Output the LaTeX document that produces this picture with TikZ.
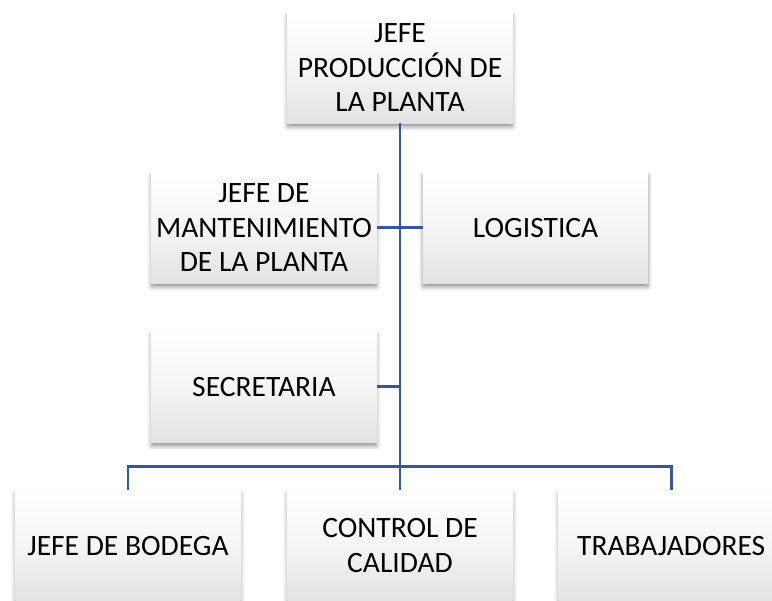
\documentclass[tikz,border=0pt]{standalone}
\usepackage{fontspec}
\setmainfont{Carlito}
\usetikzlibrary{shadows.blur}
\definecolor{linkblue}{RGB}{52,88,158}
\tikzset{
  box/.style={rectangle, minimum width=5.63cm, minimum height=2.78cm,
    align=center, inner sep=0pt, top color=white, bottom color=black!11,
    middle color=white!96!black,
    blur shadow={shadow xshift=0pt, shadow yshift=-2.5pt, shadow blur radius=3pt, shadow opacity=45},
    font=\fontsize{21}{24.5}\selectfont},
  link/.style={draw=linkblue, line width=2.1pt}
}
\begin{document}
\begin{tikzpicture}
\useasboundingbox (0,0) rectangle (19.3,15);
\node[box] (jefe) at (10,13.31) {JEFE\\PRODUCCIÓN DE\\LA PLANTA};
\node[box] (mant) at (6.6,9.31) {JEFE DE\\MANTENIMIENTO\\DE LA PLANTA};
\node[box] (logi) at (13.39,9.31) {LOGISTICA};
\node[box] (secr) at (6.6,5.33) {SECRETARIA};
\node[box] (bode) at (3.2,1.36) {JEFE DE BODEGA};
\node[box] (cali) at (10,1.36) {CONTROL DE\\CALIDAD};
\node[box] (trab) at (16.78,1.36) {TRABAJADORES};
\coordinate (bus) at (10,3.33);
\path[link]
  (jefe) edge (cali)
  (mant) edge (logi)
  (secr) edge (secr -| jefe)
;
\draw[link] (bode) |- (bus) -| (trab);
\end{tikzpicture}
\end{document}
